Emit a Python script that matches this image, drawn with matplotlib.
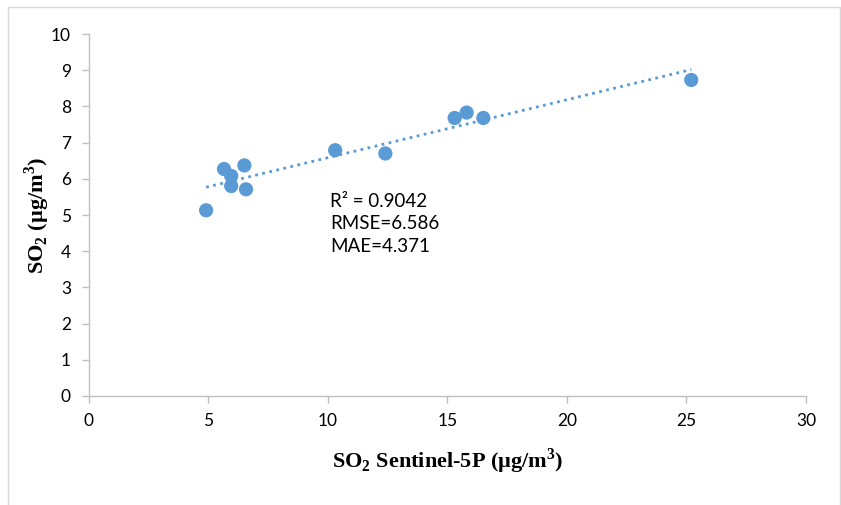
import numpy as np
import matplotlib
matplotlib.use("Agg")
import matplotlib.pyplot as plt
from matplotlib.patches import Rectangle

# Sentinel-5P vs ground SO2 (ug/m3)
sentinel = [4.9, 5.65, 5.95, 5.95, 6.5, 6.57, 10.3, 12.4, 15.3, 15.8, 16.5, 25.2]
ground = [5.13, 6.27, 6.08, 5.80, 6.37, 5.71, 6.79, 6.70, 7.68, 7.83, 7.68, 8.73]
stats_txt = ["R² = 0.9042", "RMSE=6.586", "MAE=4.371"]
x_ticks = [0, 5, 10, 15, 20, 25, 30]
y_ticks = list(range(0, 11))

BLUE = "#5b9bd5"
GRID = "#bfbfbf"

plt.rcParams["mathtext.fontset"] = "custom"
plt.rcParams["mathtext.bf"] = "Liberation Serif:bold"
plt.rcParams["mathtext.rm"] = "Liberation Serif:bold"

fig = plt.figure(figsize=(8.41, 5.05), dpi=100)
fig.patch.set_facecolor("white")
fig.patches.append(Rectangle((8 / 841, -0.05), 832 / 841, 1.05 - 7 / 505,
                             transform=fig.transFigure, fill=False,
                             ec="#d9d9d9", lw=1.0))
ax = fig.add_axes([89 / 841, 1 - 396 / 505, (806 - 89) / 841, (396 - 34) / 505])

x = np.array(sentinel); y = np.array(ground)
k, b = np.polyfit(x, y, 1)
xx = np.array([x.min(), x.max()])
ax.plot(xx, k * xx + b, color=BLUE, lw=2.0, ls=(0, (1, 1.6)), zorder=2)
ax.scatter(x, y, s=105, color=BLUE, edgecolors="none", zorder=3)

ax.set_xlim(0, 30); ax.set_ylim(0, 10)
ax.set_xticks(x_ticks); ax.set_yticks(y_ticks)
for sp in ["top", "right"]:
    ax.spines[sp].set_visible(False)
for sp in ["left", "bottom"]:
    ax.spines[sp].set_color(GRID); ax.spines[sp].set_linewidth(1.0)
ax.tick_params(colors=GRID, length=5, width=1.0, labelcolor="black",
               labelsize=12.5)
ax.tick_params(axis="y", pad=8)
ax.tick_params(axis="x", pad=7)
for lab in ax.get_xticklabels() + ax.get_yticklabels():
    lab.set_family("Lato")

ax.set_xlabel(r"SO$_\mathbf{2}$ Sentinel-5P (µg/m$^\mathbf{3}$)", family="Liberation Serif",
              fontweight="bold", fontsize=16, labelpad=13)
ax.set_ylabel(r"SO$_\mathbf{2}$ (µg/m$^\mathbf{3}$)", family="Liberation Serif",
              fontweight="bold", fontsize=16)
ax.yaxis.set_label_coords(-0.052, 0.5)

ax.text(10.1, 5.62, "\n".join(stats_txt), family="Lato", fontsize=13.5,
        va="top", ha="left", linespacing=1.42)

fig.savefig("out.png", dpi=100, facecolor="white")
